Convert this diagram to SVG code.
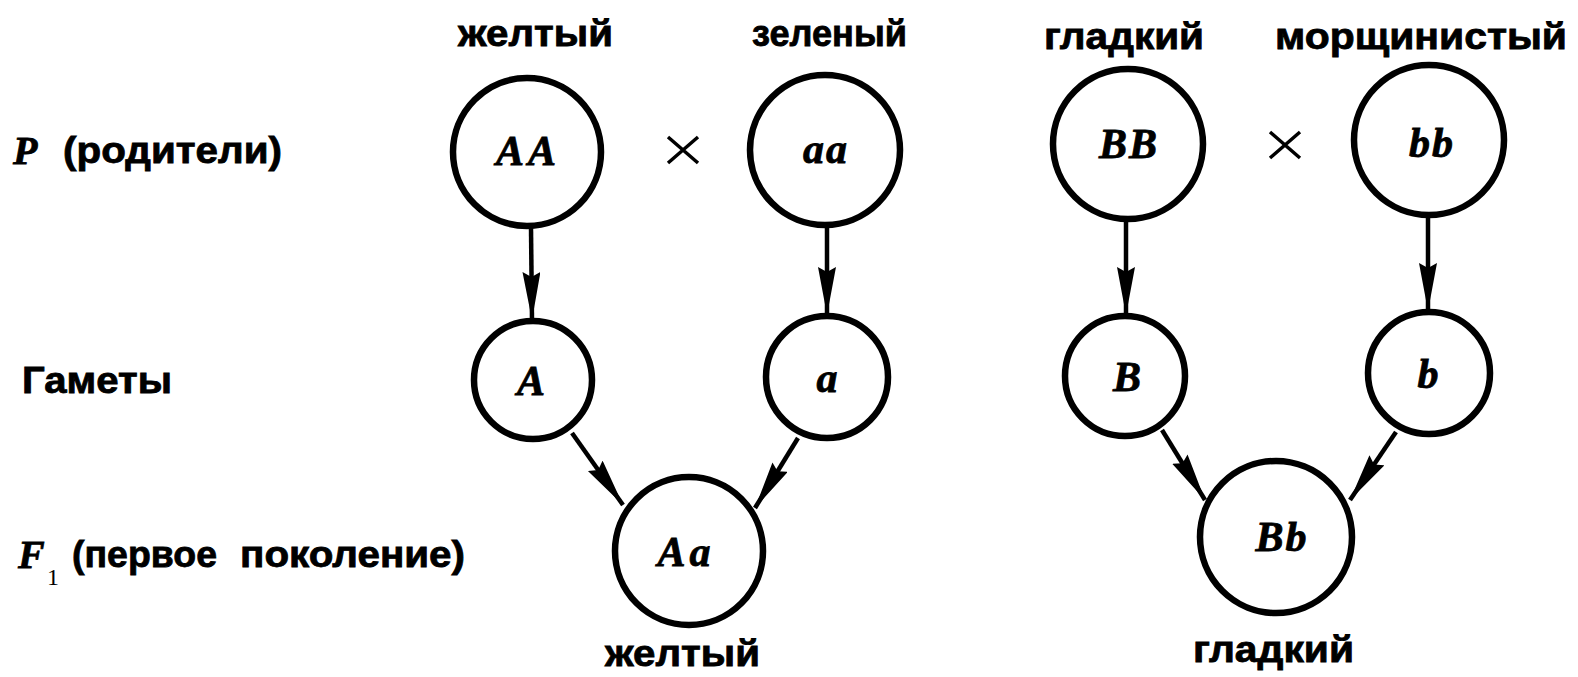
<svg xmlns="http://www.w3.org/2000/svg" width="1578" height="677" viewBox="0 0 1578 677">
<defs>
<style>
.lbl{font-family:"Liberation Sans",Arial,sans-serif;font-weight:bold;font-size:37px;fill:#000;stroke:#000;stroke-width:0.8}
.it{font-family:"Liberation Serif","Times New Roman",serif;font-weight:bold;font-style:italic;fill:#000;stroke:#000;stroke-width:0.8}
.gen{font-family:"Liberation Serif","Times New Roman",serif;font-weight:bold;font-style:italic;font-size:42px;fill:#000;stroke:#000;stroke-width:0.8;text-anchor:middle}
.node{fill:#fff;stroke:#000;stroke-width:6.5}
.edge{stroke:#000;stroke-width:4.5;fill:none;marker-end:url(#ah)}
.cross{stroke:#000;stroke-width:3.5;fill:none}
</style>
<marker id="ah" markerUnits="userSpaceOnUse" markerWidth="50" markerHeight="20" refX="48" refY="9" orient="auto" viewBox="0 0 50 20">
<path d="M0,0 L48,9 L0,18 L5,9 z" fill="#000"/>
</marker>
</defs>
<rect width="1578" height="677" fill="#fff"/>

<g id="row-labels">
<text class="it" x="13" y="164" font-size="40">P</text>
<text class="lbl" x="63" y="163" textLength="219" lengthAdjust="spacingAndGlyphs">(родители)</text>
<text class="lbl" x="22" y="393" textLength="150" lengthAdjust="spacingAndGlyphs">Гаметы</text>
<text class="it" x="18" y="568" font-size="40">F</text>
<text x="47" y="585" font-family="Liberation Serif, serif" font-size="24">1</text>
<text class="lbl" y="567"><tspan x="72" textLength="145" lengthAdjust="spacingAndGlyphs">(первое</tspan><tspan x="240" textLength="225" lengthAdjust="spacingAndGlyphs">поколение)</tspan></text>
</g>

<g id="trait-labels">
<text class="lbl" x="458" y="46" textLength="155" lengthAdjust="spacingAndGlyphs">желтый</text>
<text class="lbl" x="752" y="46" textLength="155" lengthAdjust="spacingAndGlyphs">зеленый</text>
<text class="lbl" x="1044" y="49" textLength="160" lengthAdjust="spacingAndGlyphs">гладкий</text>
<text class="lbl" x="1275" y="49" textLength="292" lengthAdjust="spacingAndGlyphs">морщинистый</text>
<text class="lbl" x="605" y="666" textLength="155" lengthAdjust="spacingAndGlyphs">желтый</text>
<text class="lbl" x="1193" y="662" textLength="161" lengthAdjust="spacingAndGlyphs">гладкий</text>
</g>

<g id="crosses">
<path class="cross" d="M668,137 L698,163 M698,137 L668,163"/>
<path class="cross" d="M1270,132 L1300,158 M1300,132 L1270,158"/>
</g>

<g id="connectors">
<line class="edge" x1="531" y1="228" x2="532" y2="320"/>
<line class="edge" x1="827" y1="226" x2="827" y2="315"/>
<line class="edge" x1="572" y1="433" x2="623" y2="505"/>
<line class="edge" x1="798" y1="438" x2="755" y2="508"/>
<line class="edge" x1="1126" y1="221" x2="1126" y2="315"/>
<line class="edge" x1="1428" y1="217" x2="1428" y2="311"/>
<line class="edge" x1="1162" y1="430" x2="1205" y2="500"/>
<line class="edge" x1="1396" y1="432" x2="1350" y2="500"/>
</g>

<g id="node-AA"><circle class="node" cx="527" cy="152" r="74"/><text class="gen" x="528" y="165" letter-spacing="4">AA</text></g>
<g id="node-aa"><circle class="node" cx="825" cy="150" r="75"/><text class="gen" x="826" y="163" letter-spacing="2">aa</text></g>
<g id="node-A"><circle class="node" cx="533" cy="380" r="59"/><text class="gen" x="531" y="395">A</text></g>
<g id="node-a"><circle class="node" cx="827" cy="377" r="61"/><text class="gen" x="827" y="392">a</text></g>
<g id="node-Aa"><circle class="node" cx="689" cy="551" r="74"/><text class="gen" x="686" y="566" letter-spacing="4">Aa</text></g>
<g id="node-BB"><circle class="node" cx="1128" cy="144" r="75"/><text class="gen" x="1129" y="158" letter-spacing="2">BB</text></g>
<g id="node-bb"><circle class="node" cx="1429" cy="140" r="75"/><text class="gen" x="1432" y="157" letter-spacing="2">bb</text></g>
<g id="node-B"><circle class="node" cx="1125" cy="376" r="60"/><text class="gen" x="1127" y="391">B</text></g>
<g id="node-b"><circle class="node" cx="1429" cy="373" r="61"/><text class="gen" x="1428" y="388">b</text></g>
<g id="node-Bb"><circle class="node" cx="1276" cy="537" r="76"/><text class="gen" x="1282" y="551" letter-spacing="2">Bb</text></g>
</svg>
